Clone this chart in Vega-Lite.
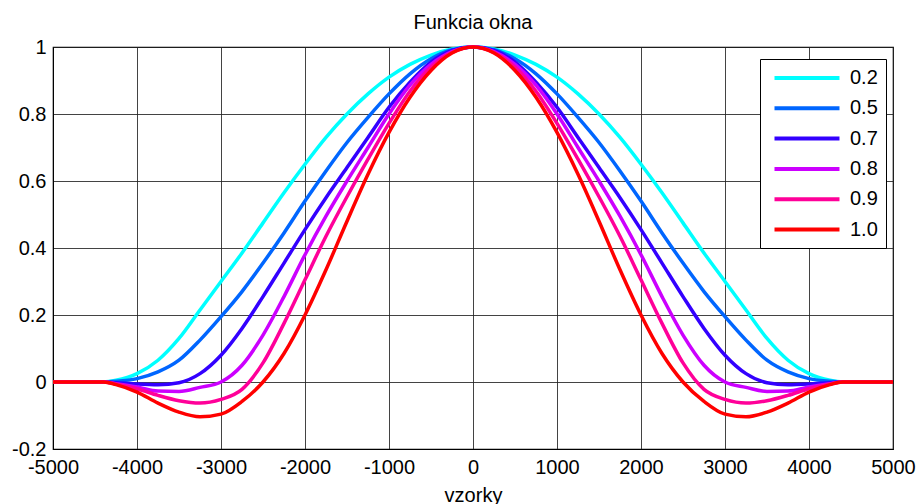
{
  "$schema": "https://vega.github.io/schema/vega-lite/v6.json",
  "width": 840,
  "height": 402,
  "autosize": {"type": "none"},
  "padding": {"left": 53, "top": 47, "right": 27, "bottom": 55},
  "background": "white",
  "title": {"text": "Funkcia okna", "fontSize": 20, "font": "Liberation Sans", "fontWeight": "normal", "color": "black", "offset": 4},
  "data": {"values": [
    {"x": -5000, "c02": 0, "c05": 0, "c07": 0, "c08": 0, "c09": 0, "c10": 0},
    {"x": -4500, "c02": 0, "c05": 0, "c07": 0, "c08": 0, "c09": 0, "c10": 0},
    {"x": -4400, "c02": 0, "c05": 0, "c07": 0, "c08": 0, "c09": 0, "c10": 0},
    {"x": -4250, "c02": 0.005, "c05": 0.002, "c07": -0.002, "c08": -0.005, "c09": -0.006, "c10": -0.008},
    {"x": -4000, "c02": 0.025, "c05": 0.01, "c07": -0.006, "c08": -0.015, "c09": -0.02, "c10": -0.03},
    {"x": -3750, "c02": 0.065, "c05": 0.03, "c07": -0.008, "c08": -0.027, "c09": -0.04, "c10": -0.063},
    {"x": -3500, "c02": 0.13, "c05": 0.065, "c07": -0.002, "c08": -0.028, "c09": -0.056, "c10": -0.09},
    {"x": -3250, "c02": 0.215, "c05": 0.125, "c07": 0.025, "c08": -0.016, "c09": -0.063, "c10": -0.104},
    {"x": -3000, "c02": 0.3, "c05": 0.195, "c07": 0.08, "c08": 0.0, "c09": -0.052, "c10": -0.096},
    {"x": -2750, "c02": 0.385, "c05": 0.27, "c07": 0.16, "c08": 0.05, "c09": -0.022, "c10": -0.058},
    {"x": -2500, "c02": 0.475, "c05": 0.355, "c07": 0.255, "c08": 0.14, "c09": 0.057, "c10": 0.0},
    {"x": -2250, "c02": 0.565, "c05": 0.445, "c07": 0.355, "c08": 0.255, "c09": 0.175, "c10": 0.085},
    {"x": -2000, "c02": 0.65, "c05": 0.54, "c07": 0.455, "c08": 0.38, "c09": 0.305, "c10": 0.2},
    {"x": -1750, "c02": 0.73, "c05": 0.63, "c07": 0.55, "c08": 0.495, "c09": 0.435, "c10": 0.335},
    {"x": -1500, "c02": 0.8, "c05": 0.715, "c07": 0.64, "c08": 0.6, "c09": 0.553, "c10": 0.48},
    {"x": -1250, "c02": 0.86, "c05": 0.79, "c07": 0.73, "c08": 0.7, "c09": 0.665, "c10": 0.62},
    {"x": -1000, "c02": 0.91, "c05": 0.86, "c07": 0.82, "c08": 0.8, "c09": 0.772, "c10": 0.745},
    {"x": -750, "c02": 0.948, "c05": 0.92, "c07": 0.895, "c08": 0.886, "c09": 0.868, "c10": 0.85},
    {"x": -500, "c02": 0.976, "c05": 0.965, "c07": 0.955, "c08": 0.948, "c09": 0.94, "c10": 0.93},
    {"x": -250, "c02": 0.994, "c05": 0.992, "c07": 0.99, "c08": 0.986, "c09": 0.984, "c10": 0.982},
    {"x": 0, "c02": 1, "c05": 1, "c07": 1, "c08": 1, "c09": 1, "c10": 1},
    {"x": 250, "c02": 0.994, "c05": 0.992, "c07": 0.99, "c08": 0.986, "c09": 0.984, "c10": 0.982},
    {"x": 500, "c02": 0.976, "c05": 0.965, "c07": 0.955, "c08": 0.948, "c09": 0.94, "c10": 0.93},
    {"x": 750, "c02": 0.948, "c05": 0.92, "c07": 0.895, "c08": 0.886, "c09": 0.868, "c10": 0.85},
    {"x": 1000, "c02": 0.91, "c05": 0.86, "c07": 0.82, "c08": 0.8, "c09": 0.772, "c10": 0.745},
    {"x": 1250, "c02": 0.86, "c05": 0.79, "c07": 0.73, "c08": 0.7, "c09": 0.665, "c10": 0.62},
    {"x": 1500, "c02": 0.8, "c05": 0.715, "c07": 0.64, "c08": 0.6, "c09": 0.553, "c10": 0.48},
    {"x": 1750, "c02": 0.73, "c05": 0.63, "c07": 0.55, "c08": 0.495, "c09": 0.435, "c10": 0.335},
    {"x": 2000, "c02": 0.65, "c05": 0.54, "c07": 0.455, "c08": 0.38, "c09": 0.305, "c10": 0.2},
    {"x": 2250, "c02": 0.565, "c05": 0.445, "c07": 0.355, "c08": 0.255, "c09": 0.175, "c10": 0.085},
    {"x": 2500, "c02": 0.475, "c05": 0.355, "c07": 0.255, "c08": 0.14, "c09": 0.057, "c10": 0.0},
    {"x": 2750, "c02": 0.385, "c05": 0.27, "c07": 0.16, "c08": 0.05, "c09": -0.022, "c10": -0.058},
    {"x": 3000, "c02": 0.3, "c05": 0.195, "c07": 0.08, "c08": 0.0, "c09": -0.052, "c10": -0.096},
    {"x": 3250, "c02": 0.215, "c05": 0.125, "c07": 0.025, "c08": -0.016, "c09": -0.063, "c10": -0.104},
    {"x": 3500, "c02": 0.13, "c05": 0.065, "c07": -0.002, "c08": -0.028, "c09": -0.056, "c10": -0.09},
    {"x": 3750, "c02": 0.065, "c05": 0.03, "c07": -0.008, "c08": -0.027, "c09": -0.04, "c10": -0.063},
    {"x": 4000, "c02": 0.025, "c05": 0.01, "c07": -0.006, "c08": -0.015, "c09": -0.02, "c10": -0.03},
    {"x": 4250, "c02": 0.005, "c05": 0.002, "c07": -0.002, "c08": -0.005, "c09": -0.006, "c10": -0.008},
    {"x": 4400, "c02": 0, "c05": 0, "c07": 0, "c08": 0, "c09": 0, "c10": 0},
    {"x": 4500, "c02": 0, "c05": 0, "c07": 0, "c08": 0, "c09": 0, "c10": 0},
    {"x": 5000, "c02": 0, "c05": 0, "c07": 0, "c08": 0, "c09": 0, "c10": 0}
  ]},
  "transform": [{"fold": ["c02", "c05", "c07", "c08", "c09", "c10"], "as": ["serie", "y"]}],
  "mark": {"type": "line", "strokeWidth": 3.5, "interpolate": "monotone"},
  "encoding": {
    "x": {"field": "x", "type": "quantitative",
      "scale": {"domain": [-5000, 5000], "nice": false, "zero": false},
      "axis": {"values": [-5000, -4000, -3000, -2000, -1000, 0, 1000, 2000, 3000, 4000, 5000],
        "labelExpr": "toString(datum.value)", "title": "vzorky", "labelPadding": 8, "titlePadding": 8}},
    "y": {"field": "y", "type": "quantitative",
      "scale": {"domain": [-0.2, 1], "nice": false, "zero": false},
      "axis": {"values": [-0.2, 0, 0.2, 0.4, 0.6, 0.8, 1],
        "labelExpr": "toString(round(datum.value*10)/10)", "title": null, "labelPadding": 7}},
    "color": {"field": "serie", "type": "nominal",
      "scale": {"domain": ["c02", "c05", "c07", "c08", "c09", "c10"],
        "range": ["#00FFFF", "#0066FF", "#3300FF", "#CC00FF", "#FF0099", "#FF0000"]},
      "legend": {"orient": "none", "legendX": 707, "legendY": 12, "title": null,
        "labelExpr": "datum.label == 'c10' ? '1.0' : '0.' + substring(datum.label, 2)",
        "symbolType": "M-0.5,0H6.72", "symbolSize": 324, "symbolStrokeWidth": 4,
        "labelFontSize": 20, "labelFont": "Liberation Sans", "labelColor": "black",
        "rowPadding": 9.3, "labelOffset": 60, "padding": 8,
        "strokeColor": "black", "fillColor": "white"}}
  },
  "config": {
    "view": {"stroke": "black", "strokeWidth": 1.2},
    "axis": {"domainColor": "black", "gridColor": "#222", "gridOpacity": 0.85, "gridWidth": 1,
      "ticks": false, "labelFont": "Liberation Sans", "labelFontSize": 20, "labelColor": "black",
      "titleFont": "Liberation Sans", "titleFontSize": 20, "titleFontWeight": "normal", "titleColor": "black",
      "labelOverlap": false, "labelBound": false, "labelFlush": false}
  }
}
